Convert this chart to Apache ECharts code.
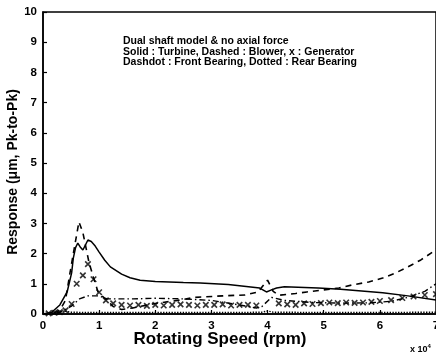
<!DOCTYPE html>
<html>
<head>
    <meta charset="utf-8">
    <title>Dual shaft response</title>
    <script src="https://cdn.jsdelivr.net/npm/echarts@6.0.0/dist/echarts.min.js"></script>
    <style>
        html, body { margin: 0; padding: 0; background: #fff; }
        #chart { width: 436px; height: 352px; }
    </style>
</head>
<body>
<div id="chart"></div>
<script>
    // rotating speed in units of 10^4 rpm, response in um pk-to-pk
    const turbineX = [0, 0.15, 0.3, 0.43, 0.51, 0.54, 0.58, 0.62, 0.67, 0.71, 0.76, 0.8, 0.86, 0.93, 1.0, 1.1, 1.2, 1.4, 1.55, 1.73, 2.0, 2.5, 2.8, 3.3, 3.86, 3.98, 4.07, 4.16, 4.3, 4.9, 5.3, 6.05, 6.5, 7.0];
    const turbineY = [0, 0.05, 0.3, 0.73, 1.36, 1.85, 2.2, 2.35, 2.2, 2.12, 2.3, 2.45, 2.4, 2.25, 2.05, 1.78, 1.56, 1.32, 1.2, 1.12, 1.08, 1.04, 1.03, 0.98, 0.86, 0.73, 0.8, 0.86, 0.9, 0.86, 0.82, 0.7, 0.6, 0.46];

    const blowerX = [0, 0.2, 0.3, 0.4, 0.48, 0.54, 0.64, 0.71, 0.82, 0.9, 0.98, 1.06, 1.14, 1.25, 1.4, 1.6, 2.0, 2.4, 2.7, 3.2, 3.6, 3.83, 4.0, 4.1, 4.2, 4.5, 4.7, 5.0, 5.27, 5.5, 5.8, 6.05, 6.28, 6.5, 6.73, 6.94, 7.0];
    const blowerY = [0, 0.03, 0.12, 0.45, 1.35, 2.0, 3.05, 2.7, 1.7, 1.2, 0.73, 0.58, 0.46, 0.25, 0.15, 0.2, 0.35, 0.45, 0.55, 0.6, 0.63, 0.73, 1.12, 0.75, 0.62, 0.68, 0.73, 0.8, 0.86, 0.96, 1.06, 1.19, 1.36, 1.56, 1.79, 2.05, 2.15];

    const generatorX = [0.1, 0.2, 0.3, 0.4, 0.51, 0.6, 0.71, 0.8, 0.9, 1.0, 1.12, 1.25, 1.4, 1.55, 1.7, 1.85, 2.0, 2.15, 2.3, 2.45, 2.6, 2.75, 2.9, 3.05, 3.2, 3.35, 3.5, 3.65, 3.8, 4.2, 4.35, 4.5, 4.65, 4.8, 4.95, 5.1, 5.25, 5.4, 5.55, 5.7, 5.85, 6.0, 6.2, 6.4, 6.6, 6.8, 7.0];
    const generatorY = [0.02, 0.04, 0.06, 0.12, 0.33, 1.0, 1.28, 1.65, 1.15, 0.72, 0.45, 0.35, 0.3, 0.28, 0.3, 0.27, 0.3, 0.28, 0.3, 0.32, 0.3, 0.28, 0.3, 0.3, 0.32, 0.28, 0.3, 0.3, 0.28, 0.35, 0.32, 0.3, 0.35, 0.33, 0.36, 0.38, 0.36, 0.38, 0.37, 0.38, 0.4, 0.43, 0.46, 0.53, 0.58, 0.63, 0.66];

    const frontX = [0, 0.3, 0.5, 0.65, 0.8, 1.0, 1.14, 1.3, 1.6, 2.0, 2.5, 3.0, 3.5, 3.8, 3.9, 4.07, 4.3, 4.8, 5.3, 5.8, 6.2, 6.5, 6.8, 7.0];
    const frontY = [0, 0.05, 0.25, 0.5, 0.6, 0.6, 0.5, 0.5, 0.5, 0.52, 0.5, 0.45, 0.3, 0.2, 0.25, 0.55, 0.45, 0.38, 0.36, 0.37, 0.42, 0.55, 0.75, 1.0];

    const rearX = [0, 0.2, 0.35, 0.5, 0.8, 1.5, 2.5, 3.5, 3.9, 4.0, 4.1, 5.0, 6.0, 7.0];
    const rearY = [0, 0.06, 0.1, 0.06, 0.05, 0.05, 0.05, 0.05, 0.06, 0.1, 0.06, 0.05, 0.05, 0.06];

    const xTicks = [0, 1, 2, 3, 4, 5, 6, 7];
    const yTicks = [0, 1, 2, 3, 4, 5, 6, 7, 8, 9, 10];

    const noteLines = [
        'Dual shaft model & no axial force',
        'Solid : Turbine, Dashed : Blower, x : Generator',
        'Dashdot : Front Bearing, Dotted : Rear Bearing'
    ];

    function pairs(xs, ys) {
        return xs.map((x, i) => [x, ys[i]]);
    }

    const font = 'Liberation Sans, Arial, sans-serif';
    const chart = echarts.init(document.getElementById('chart'));

    chart.setOption({
        animation: false,
        backgroundColor: '#fff',
        grid: {
            left: 43, right: 0, top: 12, bottom: 38,
            outerBoundsMode: 'none', containLabel: false,
            show: true, borderColor: '#000', borderWidth: 1.5
        },
        xAxis: {
            type: 'value',
            min: xTicks[0], max: xTicks[xTicks.length - 1], interval: 1,
            axisLine: { lineStyle: { color: '#000', width: 1.5 } },
            axisTick: { inside: true, length: 4, lineStyle: { color: '#000', width: 1.2 } },
            axisLabel: { color: '#000', fontFamily: font, fontWeight: 'bold', fontSize: 11.5, margin: 6 },
            splitLine: { show: false }
        },
        yAxis: {
            type: 'value',
            min: yTicks[0], max: yTicks[yTicks.length - 1], interval: 1,
            axisLine: { show: true, lineStyle: { color: '#000', width: 1.5 } },
            axisTick: { show: true, inside: true, length: 4, lineStyle: { color: '#000', width: 1.2 } },
            axisLabel: { color: '#000', fontFamily: font, fontWeight: 'bold', fontSize: 11.5, margin: 6 },
            splitLine: { show: false }
        },
        graphic: [
            {
                type: 'text', left: 123, top: 36,
                style: {
                    text: noteLines.join('\n'), fill: '#000', font: 'bold 10.5px ' + font,
                    lineHeight: 10.5
                }
            },
            {
                type: 'text', x: 13, y: 172, rotation: Math.PI / 2,
                style: {
                    text: 'Response (μm, Pk-to-Pk)', fill: '#000', font: 'bold 14px ' + font,
                    align: 'center', verticalAlign: 'middle'
                }
            },
            {
                type: 'text', x: 220, y: 339,
                style: {
                    text: 'Rotating Speed (rpm)', fill: '#000', font: 'bold 17px ' + font,
                    align: 'center', verticalAlign: 'middle'
                }
            },
            {
                type: 'text', x: 410, y: 339,
                style: {
                    text: '{b|x 10}{s|4}', fill: '#000',
                    rich: {
                        b: { fontFamily: font, fontWeight: 'bold', fontSize: 9, padding: [6, 0, 0, 0] },
                        s: { fontFamily: font, fontWeight: 'bold', fontSize: 6, padding: [0, 0, 0, 0] }
                    }
                }
            }
        ],
        series: [
            {
                name: 'Turbine', type: 'line', data: pairs(turbineX, turbineY),
                symbol: 'none', lineStyle: { color: '#000', width: 1.5 }
            },
            {
                name: 'Blower', type: 'line', data: pairs(blowerX, blowerY),
                symbol: 'none', lineStyle: { color: '#000', width: 1.6, type: [6, 5] }
            },
            {
                name: 'Front Bearing', type: 'line', data: pairs(frontX, frontY),
                symbol: 'none', lineStyle: { color: '#000', width: 1.4, type: [6, 3, 1.5, 3] }
            },
            {
                name: 'Rear Bearing', type: 'line', data: pairs(rearX, rearY),
                symbol: 'none', lineStyle: { color: '#000', width: 1.4, type: 'dotted' }
            },
            {
                name: 'Generator', type: 'scatter', data: pairs(generatorX, generatorY),
                symbol: 'path://M0,0L10,10M10,0L0,10', symbolSize: 5.5,
                itemStyle: { color: 'rgba(0,0,0,0)', borderColor: '#000', borderWidth: 1.6 }
            }
        ]
    });
</script>
</body>
</html>
